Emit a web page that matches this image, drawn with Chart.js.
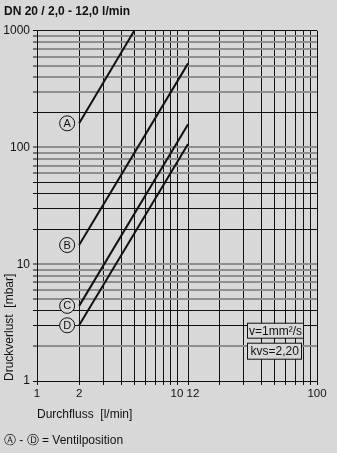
<!DOCTYPE html>
<html>
<head>
<meta charset="utf-8">
<script src="https://cdn.jsdelivr.net/npm/chart.js@4/dist/chart.umd.min.js"></script>
<style>
  html, body { margin: 0; padding: 0; background: #d8d8d8; }
  #wrap { width: 337px; height: 453px; }
</style>
</head>
<body>
<div id="wrap"><canvas id="c" width="337" height="453"></canvas></div>
<script>
// ---- data ----
const seriesNames = ['A', 'B', 'C', 'D'];
const flowA = [2, 4.95];
const dpA   = [161, 1000];
const flowB = [2, 12];
const dpB   = [14.6, 525];
const flowC = [2, 12];
const dpC   = [4.4, 158];
const flowD = [2, 12];
const dpD   = [3.0, 107];

const xTickValues = [1,2,3,4,5,6,7,8,9,10,12,20,30,40,50,60,70,80,90,100];
const xTickLabels = {1:'1', 2:'2', 10:'10', 12:'   12', 100:'100'};
const yTickValues = [1,2,3,4,5,6,7,8,9,10,20,30,40,50,60,70,80,90,100,200,300,400,500,600,700,800,900,1000];
const yTickLabels = {1:'1', 10:'10', 100:'100', 1000:'1000'};
const yGrayLines = [2,5,6,7,8,9,10,60,70,80,90,100,300,400,500,600,700,800,900];

const titleText = 'DN 20 / 2,0 - 12,0 l/min';
const xTitle = 'Durchfluss  [l/min]';
const yTitle = 'Druckverlust  [mbar]';
const footText = '\u24B6 - \u24B9 = Ventilposition';
const infoBoxes = ['v=1mm\u00B2/s', 'kvs=2,20'];

const BG = '#d8d8d8';
const FONT = "'Liberation Sans', Arial, sans-serif";

function pts(xs, ys) { return xs.map((x, i) => ({x: x, y: ys[i]})); }
const seriesData = [pts(flowA, dpA), pts(flowB, dpB), pts(flowC, dpC), pts(flowD, dpD)];

const bgPlugin = {
  id: 'bg',
  beforeDraw(chart) {
    const ctx = chart.ctx;
    ctx.save();
    ctx.fillStyle = BG;
    ctx.fillRect(0, 0, chart.width, chart.height);
    ctx.restore();
  }
};

const labelPlugin = {
  id: 'circLabels',
  afterDatasetsDraw(chart) {
    const ctx = chart.ctx;
    ctx.save();
    chart.data.datasets.forEach((ds, i) => {
      const meta = chart.getDatasetMeta(i);
      const p = meta.data[0];
      const cx = p.x - 12, cy = p.y;
      ctx.beginPath();
      ctx.arc(cx, cy, 7.5, 0, Math.PI * 2);
      ctx.fillStyle = BG;
      ctx.fill();
      ctx.lineWidth = 1;
      ctx.strokeStyle = '#111';
      ctx.stroke();
      ctx.fillStyle = '#111';
      ctx.font = '11px ' + FONT;
      ctx.textAlign = 'center';
      ctx.textBaseline = 'middle';
      ctx.fillText(seriesNames[i], cx, cy + 0.5);
    });
    // info boxes
    const ca = chart.chartArea;
    ctx.font = '12px ' + FONT;
    ctx.textAlign = 'left';
    ctx.textBaseline = 'middle';
    const boxes = [
      {left: ca.left + 210.5, top: ca.top + 292.5, h: 15, padL: 1.5, padR: 1.5},
      {left: ca.left + 210.5, top: ca.top + 312.5, h: 16, padL: 3, padR: 3}
    ];
    infoBoxes.forEach((t, i) => {
      const b = boxes[i];
      const w = Math.round(ctx.measureText(t).width + b.padL + b.padR);
      ctx.fillStyle = BG;
      ctx.fillRect(b.left, b.top, w, b.h);
      ctx.strokeStyle = '#111';
      ctx.lineWidth = 1;
      ctx.strokeRect(b.left, b.top, w, b.h);
      ctx.fillStyle = '#111';
      ctx.fillText(t, b.left + b.padL, b.top + b.h / 2 + 0.5);
    });
    ctx.restore();
  }
};

new Chart(document.getElementById('c'), {
  type: 'line',
  data: {
    datasets: seriesData.map((d, i) => ({
      label: seriesNames[i],
      data: d,
      borderColor: '#111',
      borderWidth: 2,
      pointRadius: 0,
      tension: 0,
      fill: false
    }))
  },
  options: {
    responsive: false,
    animation: false,
    layout: { padding: { left: 4, right: 20, top: 0, bottom: 0 } },
    plugins: {
      legend: { display: false },
      tooltip: { enabled: false },
      title: {
        display: true,
        text: titleText,
        align: 'start',
        color: '#111',
        font: { family: FONT, size: 12, weight: 'bold', lineHeight: 1.2 },
        padding: { top: 4.5, bottom: 11.8 }
      },
      subtitle: {
        display: true,
        text: footText,
        position: 'bottom',
        align: 'start',
        color: '#111',
        font: { family: FONT, size: 12, lineHeight: 1.2 },
        padding: { top: 4, bottom: 5 }
      }
    },
    scales: {
      x: {
        type: 'logarithmic',
        min: 1, max: 100,
        afterBuildTicks(scale) { scale.ticks = xTickValues.map(v => ({value: v})); },
        afterFit(scale) { scale.height = 48.6; },
        ticks: {
          autoSkip: false, maxRotation: 0, minRotation: 0,
          color: '#111',
          padding: 1.5,
          font: { family: FONT, size: 11.5 },
          callback: (v) => xTickLabels[v] !== undefined ? xTickLabels[v] : ''
        },
        grid: { color: '#111', lineWidth: 1, tickLength: 4, tickColor: '#111' },
        border: { color: '#111', width: 1 },
        title: {
          display: true, text: xTitle, align: 'start', color: '#111',
          font: { family: FONT, size: 12, lineHeight: 1.2 },
          padding: { top: 0, bottom: 7.6 }
        }
      },
      y: {
        type: 'logarithmic',
        min: 1, max: 1000,
        afterBuildTicks(scale) { scale.ticks = yTickValues.map(v => ({value: v})); },
        afterFit(scale) { scale.width = 33; },
        ticks: {
          autoSkip: false,
          color: '#111',
          padding: 3,
          font: { family: FONT, size: 12 },
          callback: (v) => yTickLabels[v] !== undefined ? yTickLabels[v] : ''
        },
        grid: {
          color: (c) => (c.tick && yGrayLines.includes(c.tick.value)) ? '#8e8e8e' : '#111',
          lineWidth: (c) => (c.tick && yGrayLines.includes(c.tick.value)) ? 2 : 1,
          tickLength: 4,
          tickColor: '#111',
          tickWidth: 1
        },
        border: { color: '#111', width: 1 },
        title: {
          display: true, text: yTitle, align: 'start', color: '#111',
          font: { family: FONT, size: 12, lineHeight: 1 },
          padding: { top: 0, bottom: 0 }
        }
      }
    }
  },
  plugins: [bgPlugin, labelPlugin]
});
</script>
</body>
</html>
